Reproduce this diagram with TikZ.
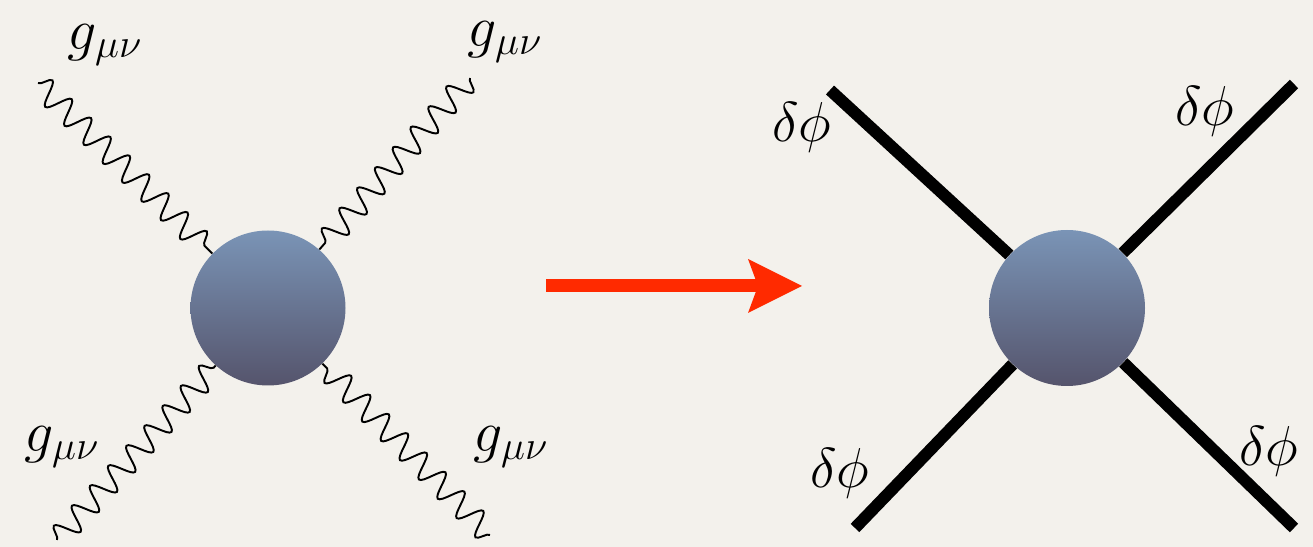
\RequirePackage{fix-cm}
\documentclass[tikz,border=0pt]{standalone}
\usetikzlibrary{arrows.meta,decorations.pathmorphing}
\usepackage{xcolor}
\definecolor{paper}{HTML}{F3F1EC}
\definecolor{blobtop}{HTML}{7A94B6}
\definecolor{blobbottom}{HTML}{55546C}
\definecolor{flowred}{HTML}{FF2A00}

\begin{document}
\begin{tikzpicture}[
    blob/.style={circle, minimum size=3.1cm, inner sep=0pt, top color=blobtop, bottom color=blobbottom},
    graviton/.style={decorate, decoration={snake, amplitude=0.24cm, segment length=0.54cm}, line width=1.1pt},
    scalar/.style={line width=6.8pt},
    arrow/.style={-{Stealth[length=1.08cm, width=1.08cm, inset=0.2cm, line width=0pt]}, line width=7.4pt, color=flowred},
    gterm/.style={font=\fontsize{33}{40}\selectfont},
    pterm/.style={font=\fontsize{32}{38}\selectfont},
]

\useasboundingbox (0,0) rectangle (26.26,10.94);
\fill[paper] (0,0) rectangle (26.26,10.94);

% gravitons
\node[blob] (lblob) at (5.36,4.78) {};
\coordinate (gtl) at (0.76,9.28);
\coordinate (gtr) at (9.40,9.38);
\coordinate (gbl) at (1.14,0.14);
\coordinate (gbr) at (9.80,0.24);
\foreach \e in {gtl, gtr, gbl, gbr} {
    \draw[graviton] (\e) -- (lblob);
}
\node[gterm] (ltl) at (2.10,10.04) {$g_{\mu\nu}$};
\node[gterm] (ltr) at (10.10,10.10) {$g_{\mu\nu}$};
\node[gterm] (lbl) at (1.24,2.00) {$g_{\mu\nu}$};
\node[gterm] (lbr) at (10.22,2.00) {$g_{\mu\nu}$};

% map
\coordinate (afrom) at (10.92,5.22);
\coordinate (ato) at (16.04,5.22);
\draw[arrow] (afrom) -- (ato);

% scalars
\node[blob, minimum size=3.12cm] (rblob) at (21.34,4.78) {};
\coordinate (stl) at (16.60,9.14);
\coordinate (str) at (25.88,9.26);
\coordinate (sbl) at (17.10,0.38);
\coordinate (sbr) at (25.88,0.38);
\foreach \e in {stl, str, sbl, sbr} {
    \draw[scalar] (\e) -- (rblob);
}
\node[pterm] (rtl) at (16.04,8.40) {$\delta\phi$};
\node[pterm] (rtr) at (24.10,8.72) {$\delta\phi$};
\node[pterm] (rbl) at (16.80,1.48) {$\delta\phi$};
\node[pterm] (rbr) at (25.38,1.92) {$\delta\phi$};

\end{tikzpicture}
\end{document}
